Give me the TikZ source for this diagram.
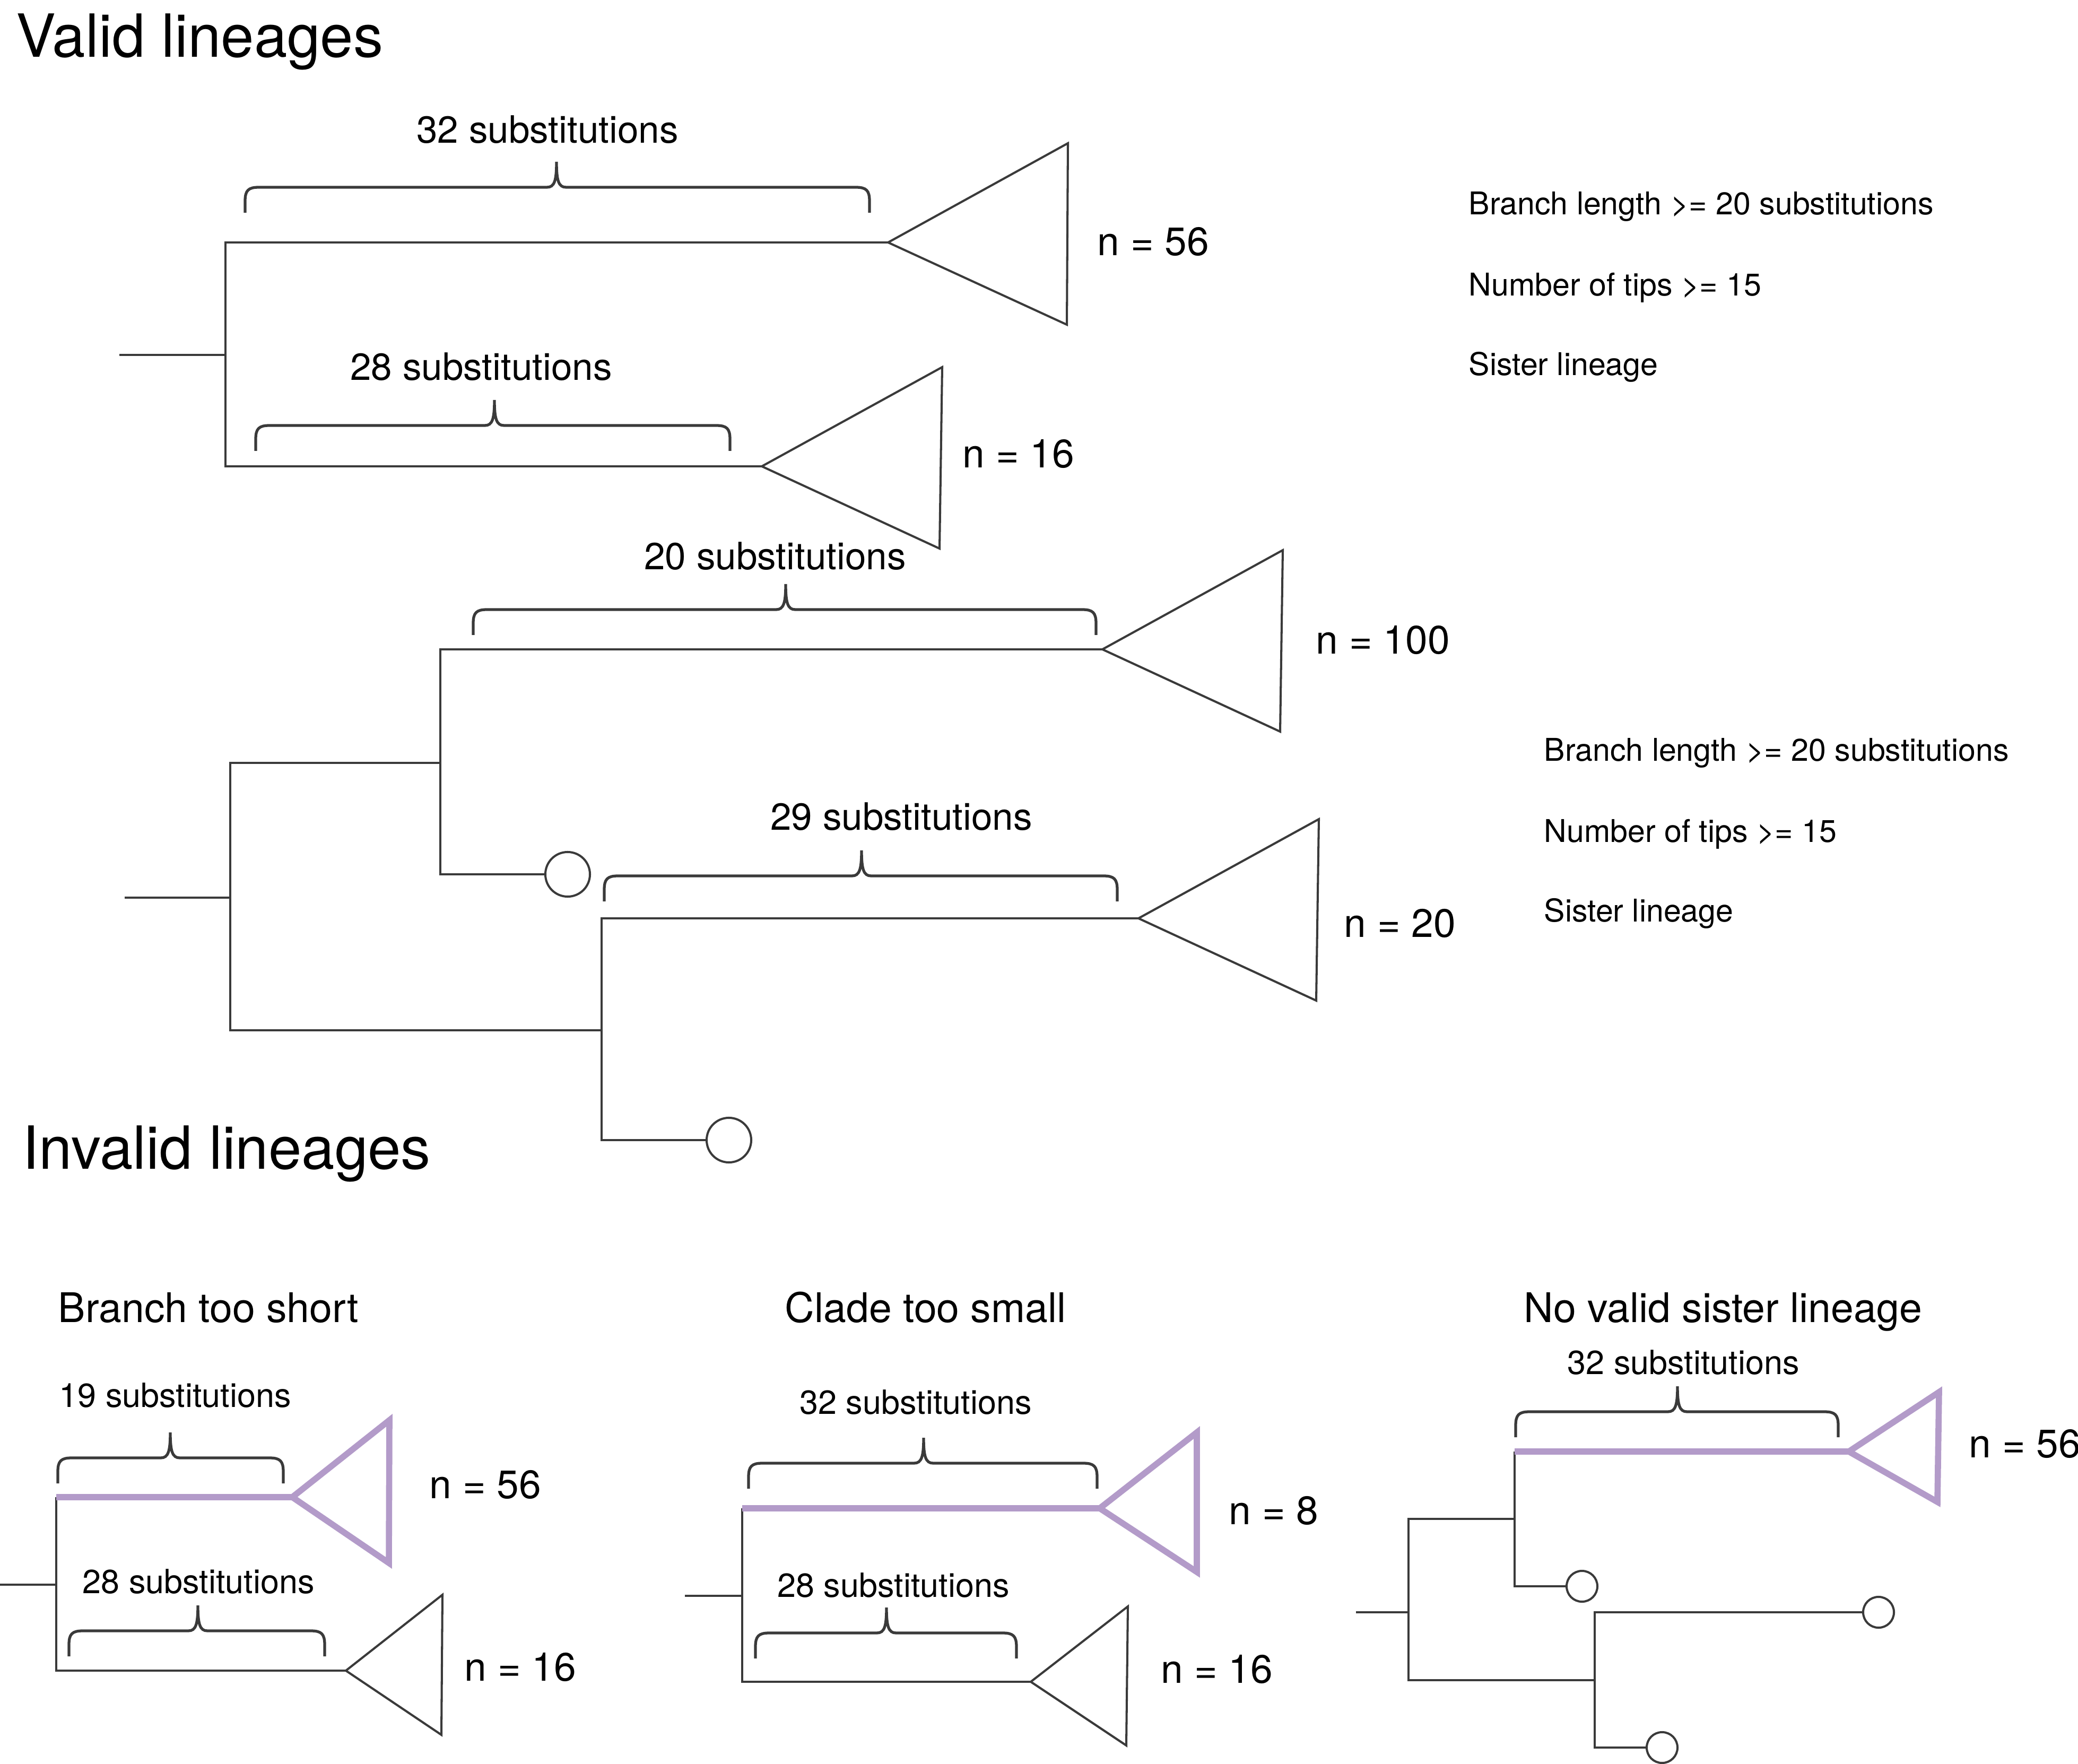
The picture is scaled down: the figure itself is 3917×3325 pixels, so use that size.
\documentclass[tikz,border=0pt]{standalone}
\usepackage{fontspec}
\setmainfont{TeX Gyre Heros}
\definecolor{linegray}{HTML}{3A3A3A}
\definecolor{lilac}{HTML}{B39BC9}
% brace over a branch: left x, right x, tip x, bar y
\newcommand{\subsbrace}[4]{%
    \draw[bracestyle] (#1,#4+48) -- (#1,#4+26)
        .. controls (#1,#4+6) and (#1+6,#4) .. (#1+26,#4) -- (#3-18,#4)
        .. controls (#3-4,#4) and (#3,#4-12) .. (#3,#4-48)
        .. controls (#3,#4-12) and (#3+4,#4) .. (#3+18,#4) -- (#2-26,#4)
        .. controls (#2-6,#4) and (#2,#4+6) .. (#2,#4+26) -- (#2,#4+48);
}
\begin{document}
\begin{tikzpicture}[x=0.01cm,y=-0.01cm,
    branch/.style={linegray,line width=1.15pt},
    clade/.style={linegray,line width=1.15pt,line join=miter},
    hilite/.style={lilac,line width=3.3pt},
    bracestyle/.style={linegray,line width=1.5pt},
    leaf/.style={circle,draw=linegray,line width=1.15pt,minimum size=0.84cm,inner sep=0pt},
    smallleaf/.style={circle,draw=linegray,line width=1.15pt,minimum size=0.58cm,inner sep=0pt},
    headtext/.style={inner sep=0pt,anchor=base west,font=\fontsize{31.9}{38}\selectfont},
    paneltext/.style={inner sep=0pt,anchor=base west,font=\fontsize{21.9}{26}\selectfont},
    substext/.style={inner sep=0pt,anchor=base,font=\fontsize{20.2}{24}\selectfont},
    lowtext/.style={inner sep=0pt,font=\fontsize{17.9}{22}\selectfont},
    ntext/.style={inner sep=0pt,anchor=base west,font=\fontsize{21.3}{26}\selectfont},
    crittext/.style={inner sep=0pt,anchor=base west,font=\fontsize{16.8}{20}\selectfont}]
    \useasboundingbox (0,0) rectangle (3917,3325);
    %titles
    \node[headtext] (valid) at (30,108) {Valid lineages};
    \node[headtext] (invalid) at (42,2203) {Invalid lineages};

    %valid tree a
    \coordinate (a-stem) at (225,669);
    \coordinate (a-node) at (425,669);
    \coordinate (a-up) at (425,457);
    \coordinate (a-dn) at (425,879);
    \coordinate (a-tip1) at (1674,457);
    \coordinate (a-tip2) at (1436,879);
    \draw[branch] (a-stem) -- (a-node);
    \draw[branch] (a-tip1) -- (a-up) -- (a-dn) -- (a-tip2);
    \draw[clade] (a-tip1) -- (2013,270) -- (2011,612) -- cycle;
    \draw[clade] (a-tip2) -- (1776,692) -- (1771,1034) -- cycle;
    \subsbrace{462}{1639}{1049}{353}
    \subsbrace{482}{1376}{932}{802}
    \node[substext] (a-len1) at (1032,270) {32 substitutions};
    \node[substext] (a-len2) at (907,717) {28 substitutions};
    \node[ntext] (a-n1) at (2068,482) {n = 56};
    \node[ntext] (a-n2) at (1814,882) {n = 16};

    %valid tree b
    \coordinate (b-stem) at (235,1692);
    \coordinate (b-node) at (434,1692);
    \coordinate (b-up) at (434,1438);
    \coordinate (b-dn) at (434,1942);
    \coordinate (b-upnode) at (830,1438);
    \coordinate (b-upup) at (830,1224);
    \coordinate (b-updn) at (830,1648);
    \coordinate (b-dnnode) at (1134,1942);
    \coordinate (b-dnup) at (1134,1731);
    \coordinate (b-dndn) at (1134,2149);
    \coordinate (b-tip1) at (2078,1224);
    \coordinate (b-tip2) at (2146,1731);
    \node[leaf] (b-leaf1) at (1070,1648) {};
    \node[leaf] (b-leaf2) at (1374,2149) {};
    \draw[branch] (b-stem) -- (b-node);
    \draw[branch] (b-upnode) -- (b-up) -- (b-dn) -- (b-dnnode);
    \draw[branch] (b-tip1) -- (b-upup) -- (b-updn) -- (b-leaf1);
    \draw[branch] (b-tip2) -- (b-dnup) -- (b-dndn) -- (b-leaf2);
    \draw[clade] (b-tip1) -- (2418,1037) -- (2413,1379) -- cycle;
    \draw[clade] (b-tip2) -- (2486,1544) -- (2481,1886) -- cycle;
    \subsbrace{892}{2066}{1481}{1149}
    \subsbrace{1139}{2106}{1624}{1651}
    \node[substext] (b-len1) at (1461,1074) {20 substitutions};
    \node[substext] (b-len2) at (1699,1564) {29 substitutions};
    \node[ntext] (b-n1) at (2480,1232) {n = 100};
    \node[ntext] (b-n2) at (2533,1766) {n = 20};

    %criteria
    \node[crittext] (a-crit1) at (2768,405) {Branch length >= 20 substitutions};
    \node[crittext] (a-crit2) at (2768,558) {Number of tips >= 15};
    \node[crittext] (a-crit3) at (2768,708) {Sister lineage};
    \node[crittext] (b-crit1) at (2910,1434) {Branch length >= 20 substitutions};
    \node[crittext] (b-crit2) at (2910,1587) {Number of tips >= 15};
    \node[crittext] (b-crit3) at (2910,1737) {Sister lineage};

    %invalid: branch too short
    \node[paneltext] (p-title) at (109,2492) {Branch too short};
    \coordinate (p-stem) at (0,2987);
    \coordinate (p-node) at (106,2987);
    \coordinate (p-up) at (106,2822);
    \coordinate (p-dn) at (106,3149);
    \coordinate (p-tip1) at (551,2822);
    \coordinate (p-tip2) at (652,3149);
    \draw[branch] (p-stem) -- (p-node);
    \draw[branch] (p-up) -- (p-dn) -- (p-tip2);
    \draw[clade] (p-tip2) -- (834,3006) -- (832,3270) -- cycle;
    \draw[hilite] (p-up) -- (p-tip1);
    \draw[hilite] (p-tip1) -- (734,2677) -- (733,2946) -- cycle;
    \subsbrace{109}{534}{321}{2748}
    \subsbrace{130}{612}{373}{3074}
    \node[lowtext,anchor=base west] (p-len1) at (111,2652) {19 substitutions};
    \node[lowtext,anchor=base west] (p-len2) at (155,3003) {28 substitutions};
    \node[ntext] (p-n1) at (809,2824) {n = 56};
    \node[ntext] (p-n2) at (875,3168) {n = 16};

    %invalid: clade too small
    \node[paneltext] (q-title) at (1479,2492) {Clade too small};
    \coordinate (q-stem) at (1291,3008);
    \coordinate (q-node) at (1399,3008);
    \coordinate (q-up) at (1399,2843);
    \coordinate (q-dn) at (1399,3170);
    \coordinate (q-tip1) at (2073,2843);
    \coordinate (q-tip2) at (1943,3170);
    \draw[branch] (q-stem) -- (q-node);
    \draw[branch] (q-up) -- (q-dn) -- (q-tip2);
    \draw[clade] (q-tip2) -- (2126,3028) -- (2123,3290) -- cycle;
    \draw[hilite] (q-up) -- (q-tip1);
    \draw[hilite] (q-tip1) -- (2256,2700) -- (2256,2963) -- cycle;
    \subsbrace{1411}{2068}{1741}{2758}
    \subsbrace{1424}{1916}{1671}{3078}
    \node[lowtext,anchor=base] (q-len1) at (1726,2665) {32 substitutions};
    \node[lowtext,anchor=base] (q-len2) at (1684,3010) {28 substitutions};
    \node[ntext] (q-n1) at (2316,2873) {n = 8};
    \node[ntext] (q-n2) at (2188,3172) {n = 16};

    %invalid: no valid sister lineage
    \node[paneltext] (r-title) at (2872,2492) {No valid sister lineage};
    \coordinate (r-stem) at (2556,3039);
    \coordinate (r-node) at (2655,3039);
    \coordinate (r-up) at (2655,2863);
    \coordinate (r-dn) at (2655,3167);
    \coordinate (r-upnode) at (2855,2863);
    \coordinate (r-upup) at (2855,2736);
    \coordinate (r-updn) at (2855,2990);
    \coordinate (r-dnnode) at (3006,3167);
    \coordinate (r-dnup) at (3006,3039);
    \coordinate (r-dndn) at (3006,3294);
    \coordinate (r-tip1) at (3485,2736);
    \node[smallleaf] (r-leaf1) at (2982,2990) {};
    \node[smallleaf] (r-leaf2) at (3541,3039) {};
    \node[smallleaf] (r-leaf3) at (3133,3294) {};
    \draw[branch] (r-stem) -- (r-node);
    \draw[branch] (r-upnode) -- (r-up) -- (r-dn) -- (r-dnnode);
    \draw[branch] (r-upup) -- (r-updn) -- (r-leaf1);
    \draw[branch] (r-leaf2) -- (r-dnup) -- (r-dndn) -- (r-leaf3);
    \draw[hilite] (r-upup) -- (r-tip1);
    \draw[hilite] (r-tip1) -- (3655,2624) -- (3652,2831) -- cycle;
    \subsbrace{2857}{3465}{3162}{2661}
    \node[lowtext,anchor=base] (r-len1) at (3173,2590) {32 substitutions};
    \node[ntext] (r-n1) at (3711,2747) {n = 56};
\end{tikzpicture}
\end{document}
